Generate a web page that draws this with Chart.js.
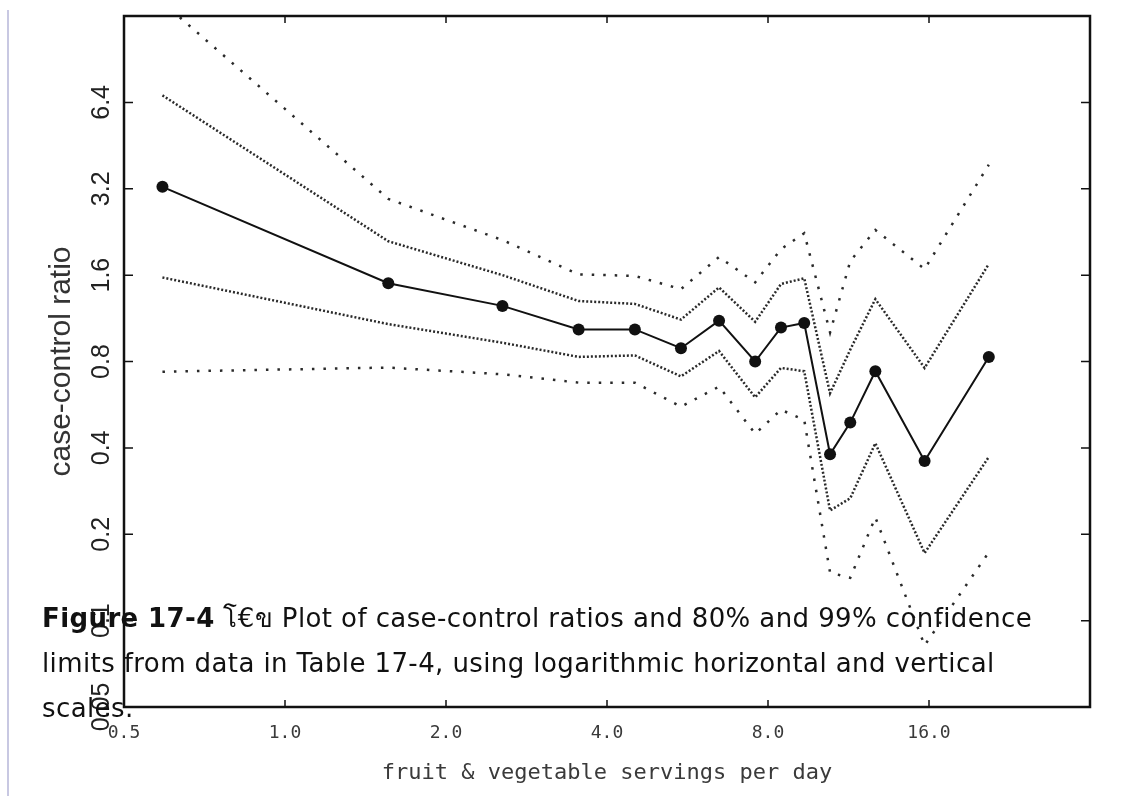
<!DOCTYPE html>
<html lang="en">
<head>
  <meta charset="UTF-8" />
  <title>Case-control ratios</title>
  <script src="https://cdn.jsdelivr.net/npm/chart.js"></script>
  <style>
    html, body { margin: 0; padding: 0; background: #fff; }
    .wrap { position: relative; width: 1127px; height: 796px; }
    .edge { position: absolute; left: 7px; top: 10px; bottom: 0; width: 2px; background: #c8c8e2; }
    .caption {
      position: absolute; left: 42px; top: 596px;
      font-family: "DejaVu Sans", sans-serif;
      font-size: 26px; line-height: 45px; color: #111;
      letter-spacing: 0.4px;
      white-space: nowrap;
    }
  </style>
</head>
<body>
  <div class="wrap">
    <canvas id="chart" width="1127" height="796"></canvas>
    <div class="edge"></div>
    <div class="caption"><b>Figure 17-4</b> โ€ข Plot of case-control ratios and 80% and 99% confidence<br>limits from data in Table 17-4, using logarithmic horizontal and vertical<br>scales.</div>
  </div>

  <script>
    // servings per day (x) and estimates
    const servings = [0.59, 1.56, 2.55, 3.54, 4.51, 5.5, 6.48, 7.57, 8.46, 9.35, 10.45, 11.4, 12.7, 15.7, 20.7];
    const ratio    = [3.25, 1.5, 1.25, 1.035, 1.035, 0.89, 1.11, 0.8, 1.05, 1.09, 0.38, 0.49, 0.74, 0.36, 0.83];
    const upper80  = [6.77, 2.1, 1.6, 1.30, 1.27, 1.12, 1.45, 1.10, 1.49, 1.56, 0.62, 0.88, 1.32, 0.76, 1.75];
    const lower80  = [1.57, 1.08, 0.93, 0.83, 0.84, 0.71, 0.87, 0.60, 0.76, 0.74, 0.242, 0.267, 0.415, 0.172, 0.372];
    const upper99  = [14.3, 2.95, 2.12, 1.61, 1.59, 1.43, 1.85, 1.51, 1.97, 2.24, 1.01, 1.79, 2.30, 1.68, 3.88];
    const lower99  = [0.737, 0.762, 0.722, 0.675, 0.675, 0.557, 0.654, 0.448, 0.543, 0.501, 0.147, 0.141, 0.229, 0.082, 0.173];

    const xTicks = [0.5, 1, 2, 4, 8, 16];
    const xTickLabels = ['0.5', '1.0', '2.0', '4.0', '8.0', '16.0'];
    const yTicks = [0.05, 0.1, 0.2, 0.4, 0.8, 1.6, 3.2, 6.4];
    const yTickLabels = ['0.05', '0.1', '0.2', '0.4', '0.8', '1.6', '3.2', '6.4'];

    const pts = (ys) => servings.map((x, i) => ({ x: x, y: ys[i] }));

    const band = (ys, dash) => ({
      data: pts(ys),
      borderColor: '#2a2a2a',
      borderWidth: 2.5,
      borderDash: dash,
      pointRadius: 0,
      tension: 0
    });

    // frame plus inward tick marks on all four sides
    const frame = {
      id: 'frame',
      afterDatasetsDraw(chart) {
        const { ctx, chartArea: a, scales: { x, y } } = chart;
        ctx.save();
        ctx.strokeStyle = '#111';
        ctx.lineWidth = 2.5;
        ctx.strokeRect(a.left, a.top, a.right - a.left, a.bottom - a.top);
        ctx.lineWidth = 1.5;
        ctx.beginPath();
        xTicks.forEach(v => {
          const px = x.getPixelForValue(v);
          ctx.moveTo(px, a.bottom); ctx.lineTo(px, a.bottom - 7);
          ctx.moveTo(px, a.top); ctx.lineTo(px, a.top + 7);
        });
        yTicks.forEach(v => {
          const py = y.getPixelForValue(v);
          ctx.moveTo(a.left, py); ctx.lineTo(a.left + 9, py);
          ctx.moveTo(a.right, py); ctx.lineTo(a.right - 9, py);
        });
        ctx.stroke();
        ctx.restore();
      }
    };

    new Chart(document.getElementById('chart'), {
      type: 'line',
      data: {
        datasets: [
          {
            data: pts(ratio),
            borderColor: '#111',
            borderWidth: 2,
            pointRadius: 6,
            pointBackgroundColor: '#111',
            pointBorderWidth: 0,
            tension: 0
          },
          band(upper80, [2, 2]),
          band(lower80, [2, 2]),
          band(upper99, [2.5, 9]),
          band(lower99, [2.5, 9])
        ]
      },
      options: {
        responsive: false,
        animation: false,
        layout: { padding: { top: 16, right: 37, left: 0, bottom: 0 } },
        plugins: {
          legend: { display: false },
          tooltip: { enabled: false }
        },
        scales: {
          x: {
            type: 'logarithmic',
            min: 0.5,
            max: 32,
            afterBuildTicks: (s) => { s.ticks = xTicks.map(v => ({ value: v })); },
            afterFit: (s) => { s.height = 89; },
            grid: { display: false, drawTicks: false },
            border: { display: false },
            ticks: {
              padding: 16,
              color: '#3a3a3a',
              font: { family: 'DejaVu Sans Mono', size: 18 },
              maxRotation: 0,
              autoSkip: false,
              callback: (v, i) => xTickLabels[i]
            },
            title: {
              display: true,
              text: 'fruit & vegetable servings per day',
              color: '#3a3a3a',
              font: { family: 'DejaVu Sans Mono', size: 22 },
              padding: { top: 0, bottom: 10 }
            }
          },
          y: {
            type: 'logarithmic',
            min: 0.05,
            max: 12.8,
            afterBuildTicks: (s) => { s.ticks = yTicks.map(v => ({ value: v })); },
            afterFit: (s) => { s.width = 124; },
            grid: { display: false, drawTicks: false },
            border: { display: false },
            ticks: {
              minRotation: 90,
              maxRotation: 90,
              crossAlign: 'center',
              padding: -2,
              color: '#222',
              font: { family: '"Liberation Sans Narrow", "Liberation Sans", Arial, sans-serif', size: 25 },
              autoSkip: false,
              callback: (v, i) => yTickLabels[i]
            },
            title: {
              display: true,
              text: 'case-control ratio',
              color: '#333',
              font: { family: '"Liberation Sans", Arial, sans-serif', size: 30 },
              padding: { top: 44, bottom: 0 }
            }
          }
        }
      },
      plugins: [frame]
    });
  </script>
</body>
</html>
